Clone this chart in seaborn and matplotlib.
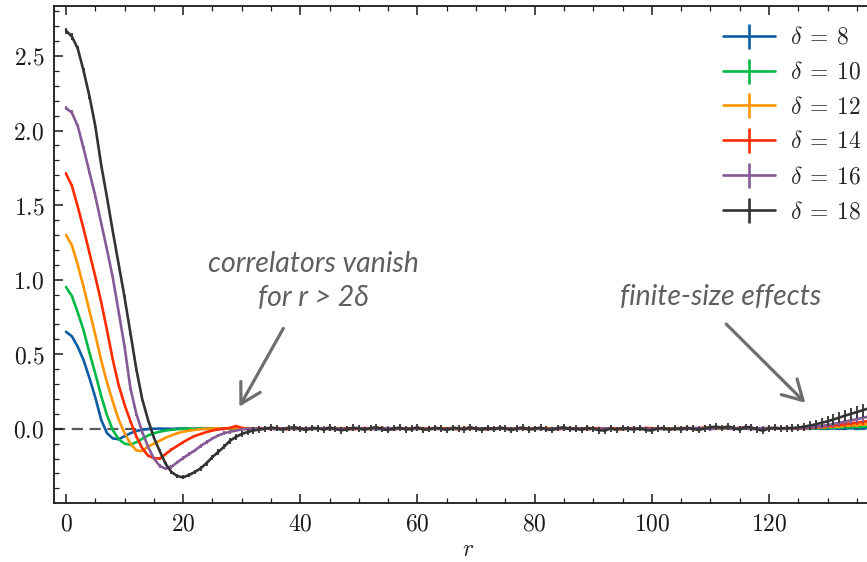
import numpy as np
import pandas as pd
import matplotlib
matplotlib.use("Agg")
import matplotlib.pyplot as plt
import seaborn as sns
from matplotlib.lines import Line2D
from matplotlib.ticker import MultipleLocator, FuncFormatter

# ---------------- data ----------------
deltas = [8, 10, 12, 14, 16, 18]
colors = ["#0C5DA5", "#00B945", "#FF9500", "#FF2C00", "#845B97", "#333333"]

# delta = 8
c8_head = [0.65, 0.62, 0.55, 0.46, 0.34, 0.21, 0.06, -0.03, -0.065, -0.07,
           -0.05, -0.03, -0.015, -0.007, -0.002, 0.0]
c8_tail = [0.001, 0.0, -0.001, 0.001, 0.002, 0.0, -0.001, 0.001, 0.0, 0.002,
           -0.001, 0.0, 0.001, 0.002, -0.001, 0.001, 0.0, -0.002, 0.001, 0.002,
           0.0, -0.001, 0.002, 0.001, 0.0, -0.001, 0.001, 0.002, -0.001, 0.0,
           0.002, 0.001, -0.001, 0.0, 0.001, 0.002, -0.002, 0.001, 0.0, 0.001,
           -0.001, 0.002, 0.0, 0.001, -0.001, 0.002, 0.001, 0.0, -0.001, 0.001,
           0.002, 0.0, -0.001, 0.001, 0.002, 0.0, -0.002, 0.001, 0.001, 0.0,
           0.002, -0.001, 0.0, 0.001, 0.002, -0.001, 0.001, 0.0, 0.002, -0.001,
           0.0, 0.001, 0.002, -0.001, 0.001, 0.0, -0.001, 0.002, 0.001, 0.0,
           -0.001, 0.001, 0.002, 0.0, -0.001, 0.001, 0.002, 0.0, 0.001, -0.001,
           0.002, 0.001, 0.0, 0.002, 0.001, 0.003, 0.001, 0.002, 0.0, 0.001,
           0.002, 0.001, 0.0, 0.001, 0.002, 0.001, 0.0, 0.001, 0.002, 0.001]
c8_end = [0.001, 0.001, 0.001, 0.002, 0.002, 0.002, 0.002, 0.003, 0.003, 0.003, 0.004, 0.004]

# delta = 10
c10_head = [0.95, 0.89, 0.78, 0.66, 0.51, 0.37, 0.22, 0.09, -0.01, -0.07,
            -0.10, -0.107, -0.09, -0.068, -0.045, -0.03, -0.02, -0.012, -0.007, -0.003, 0.0]
c10_tail = [0.001, -0.001, 0.002, 0.0, -0.002, 0.001, 0.003, -0.001, 0.0, 0.002,
            -0.002, 0.001, 0.002, -0.001, 0.003, 0.0, -0.002, 0.002, 0.001, -0.001,
            0.002, 0.0, -0.002, 0.003, 0.001, -0.001, 0.002, 0.0, 0.003, -0.002,
            0.001, 0.002, -0.001, 0.0, 0.003, -0.002, 0.001, 0.002, 0.0, -0.001,
            0.002, 0.003, -0.001, 0.001, 0.0, -0.002, 0.002, 0.001, 0.003, -0.001,
            0.0, 0.002, -0.002, 0.001, 0.003, 0.0, -0.001, 0.002, 0.001, -0.002,
            0.003, 0.001, 0.0, -0.001, 0.002, 0.003, -0.002, 0.001, 0.0, 0.002,
            -0.001, 0.002, 0.001, -0.002, 0.003, 0.0, 0.001, -0.001, 0.002, 0.003,
            0.0, -0.002, 0.001, 0.002, -0.001, 0.003, 0.001, 0.0, 0.002, 0.004,
            0.002, 0.003, 0.001, 0.004, 0.002, 0.0, 0.003, 0.001, 0.002, 0.001,
            0.002, 0.001, 0.003, 0.001, 0.002]
c10_end = [0.002, 0.003, 0.004, 0.005, 0.006, 0.007, 0.008, 0.009, 0.010, 0.011, 0.012, 0.014]

# delta = 12
c12_head = [1.30, 1.23, 1.10, 0.95, 0.79, 0.63, 0.46, 0.31, 0.18, 0.06,
            -0.03, -0.10, -0.145, -0.15, -0.12, -0.10, -0.08, -0.06, -0.045, -0.03,
            -0.02, -0.013, -0.007, -0.003, 0.0]
c12_tail = [0.001, 0.003, -0.002, 0.004, 0.002, -0.003, 0.005, 0.001, -0.002, 0.003,
            0.004, -0.001, 0.002, 0.005, -0.003, 0.001, 0.003, -0.002, 0.004, 0.002,
            -0.003, 0.003, 0.005, 0.0, -0.002, 0.004, 0.001, -0.003, 0.003, 0.005,
            0.002, -0.002, 0.004, 0.001, -0.003, 0.003, 0.005, 0.0, -0.002, 0.004,
            0.003, -0.001, 0.002, 0.005, -0.002, 0.004, 0.001, -0.003, 0.003, 0.002,
            0.005, -0.002, 0.001, 0.004, 0.003, -0.003, 0.002, 0.005, 0.0, 0.003,
            -0.002, 0.004, 0.002, -0.001, 0.005, 0.003, -0.003, 0.001, 0.004, 0.002,
            -0.002, 0.003, 0.005, 0.0, -0.003, 0.002, 0.004, 0.001, -0.002, 0.003,
            0.005, 0.002, -0.001, 0.004, 0.003, 0.006, 0.002, 0.005, 0.003, 0.001,
            0.004, 0.006, 0.002, 0.0, 0.003, 0.004, 0.002, 0.003, 0.001, 0.002,
            0.002]
c12_end = [0.003, 0.005, 0.007, 0.009, 0.011, 0.013, 0.016, 0.019, 0.022, 0.025, 0.028, 0.031]

# delta = 14
c14_head = [1.71, 1.63, 1.49, 1.34, 1.18, 1.02, 0.85, 0.66, 0.46, 0.29,
            0.16, 0.05, -0.05, -0.13, -0.18, -0.197, -0.20, -0.17, -0.14, -0.115,
            -0.09, -0.068, -0.048, -0.035, -0.022, -0.012, -0.004, 0.0, 0.006, 0.018,
            0.006, 0.0]
c14_tail = [-0.002, 0.004, 0.003, -0.003, 0.005, 0.001, -0.004, 0.006, 0.002, -0.002,
            0.004, -0.001, 0.003, 0.005, -0.003, 0.002, 0.004, -0.004, 0.001, 0.006,
            -0.002, 0.003, 0.005, 0.0, -0.004, 0.004, 0.002, -0.001, 0.006, -0.003,
            0.002, 0.005, -0.002, 0.003, 0.0, -0.004, 0.004, 0.006, -0.001, 0.002,
            -0.003, 0.004, 0.002, 0.005, -0.002, 0.001, 0.003, -0.004, 0.005, 0.002,
            0.0, 0.004, -0.003, 0.002, 0.006, -0.001, 0.003, -0.004, 0.002, 0.005,
            -0.002, 0.003, 0.001, -0.005, 0.004, 0.002, -0.001, 0.006, 0.003, -0.002,
            0.004, 0.001, -0.003, 0.005, 0.002, -0.002, 0.004, 0.007, 0.003, 0.006,
            0.009, 0.004, 0.001, 0.007, 0.005, 0.002, -0.001, 0.004, 0.003, 0.005,
            0.002, 0.004, 0.003, 0.002]
c14_end = [0.004, 0.007, 0.010, 0.014, 0.018, 0.022, 0.026, 0.031, 0.036, 0.041, 0.046, 0.051]

# delta = 16
c16_head = [2.15, 2.12, 2.03, 1.88, 1.72, 1.56, 1.38, 1.20, 1.01, 0.78,
            0.55, 0.27, 0.10, -0.02, -0.12, -0.20, -0.25, -0.268, -0.255, -0.225,
            -0.197, -0.17, -0.145, -0.115, -0.09, -0.065, -0.045, -0.03, -0.02, -0.012,
            -0.005, 0.0]
c16_tail = [0.002, -0.003, 0.004, 0.001, -0.004, 0.003, 0.005, -0.002, 0.0, 0.004,
            -0.003, 0.002, 0.005, -0.004, 0.001, 0.003, -0.005, 0.002, 0.004, -0.001,
            0.003, -0.004, 0.0, 0.005, -0.002, 0.003, 0.001, -0.004, 0.004, 0.002,
            -0.003, 0.004, 0.0, -0.005, 0.003, 0.002, -0.002, 0.005, -0.001, 0.003,
            0.004, -0.003, 0.001, 0.003, -0.004, 0.002, 0.005, -0.002, 0.0, 0.003,
            -0.004, 0.002, 0.004, -0.001, 0.003, -0.005, 0.002, 0.004, 0.0, -0.003,
            0.003, 0.001, -0.004, 0.004, 0.002, -0.002, 0.005, 0.0, -0.003, 0.003,
            0.002, -0.004, 0.003, 0.001, -0.002, 0.004, 0.006, 0.002, -0.003, 0.005,
            0.007, 0.003, -0.002, 0.006, 0.004, -0.003, 0.002, 0.005, 0.001, 0.003,
            0.002, 0.004, 0.001, 0.003]
c16_end = [0.004, 0.008, 0.013, 0.019, 0.025, 0.032, 0.040, 0.048, 0.056, 0.064, 0.073, 0.082]

# delta = 18
c18_head = [2.67, 2.63, 2.55, 2.40, 2.23, 2.03, 1.77, 1.55, 1.32, 1.10,
            0.88, 0.64, 0.40, 0.20, 0.06, -0.06, -0.15, -0.235, -0.29, -0.318,
            -0.326, -0.31, -0.29, -0.265, -0.23, -0.19, -0.155, -0.12, -0.08, -0.055,
            -0.035, -0.022, -0.012, -0.005, 0.0]
c18_tail = [0.008, 0.003, -0.007, 0.005, 0.010, 0.0, -0.009, 0.006, 0.003, -0.006,
            0.009, -0.002, -0.011, -0.004, 0.007, 0.002, -0.007, 0.005, 0.010, -0.004,
            -0.009, 0.003, 0.007, -0.005, 0.0, 0.009, -0.007, -0.003, 0.005, 0.002,
            -0.009, 0.007, 0.003, -0.005, 0.010, 0.0, -0.007, 0.005, -0.003, 0.007,
            0.002, -0.010, 0.003, 0.008, -0.005, 0.0, 0.007, -0.003, -0.009, 0.005,
            0.010, -0.003, 0.002, -0.007, 0.005, 0.0, -0.010, -0.013, 0.003, -0.007,
            0.005, 0.0, -0.005, 0.003, -0.009, -0.012, 0.002, 0.005, -0.007, 0.003,
            -0.005, 0.007, 0.0, -0.009, 0.003, 0.010, 0.014, 0.006, 0.015, 0.005,
            -0.006, 0.012, 0.009, -0.005, -0.013, 0.003, 0.006, 0.002, 0.004]
c18_end = [0.005, 0.009, 0.014, 0.022, 0.030, 0.040, 0.050, 0.062, 0.075, 0.088,
           0.100, 0.112, 0.124, 0.137]

# error bars
e8 = [0.003, 0.003, 0.003, 0.003, 0.003, 0.003, 0.003, 0.003, 0.003, 0.003,
      0.003, 0.003, 0.003, 0.003, 0.003, 0.003, 0.003, 0.003, 0.003, 0.003,
      0.003, 0.003, 0.003, 0.003, 0.003, 0.003, 0.003, 0.003, 0.003, 0.003,
      0.003, 0.003, 0.003, 0.003, 0.003, 0.003, 0.003, 0.003, 0.003, 0.003,
      0.003, 0.003, 0.003, 0.003, 0.003, 0.003, 0.003, 0.003, 0.003, 0.003,
      0.003, 0.003, 0.003, 0.003, 0.003, 0.003, 0.003, 0.003, 0.003, 0.003,
      0.003, 0.003, 0.003, 0.003, 0.003, 0.003, 0.003, 0.003, 0.003, 0.003,
      0.003, 0.003, 0.003, 0.003, 0.003, 0.003, 0.003, 0.003, 0.003, 0.003,
      0.003, 0.003, 0.003, 0.003, 0.003, 0.003, 0.003, 0.003, 0.003, 0.003,
      0.003, 0.003, 0.003, 0.003, 0.003, 0.003, 0.003, 0.003, 0.003, 0.003,
      0.003, 0.003, 0.003, 0.003, 0.003, 0.003, 0.003, 0.003, 0.003, 0.003,
      0.003, 0.003, 0.003, 0.003, 0.003, 0.003, 0.003, 0.003, 0.003, 0.003,
      0.003, 0.003, 0.003, 0.003, 0.003, 0.003, 0.003, 0.003, 0.004, 0.004,
      0.004, 0.004, 0.004, 0.005, 0.005, 0.005, 0.005, 0.005]
e10 = [0.004, 0.004, 0.004, 0.004, 0.004, 0.004, 0.004, 0.004, 0.004, 0.004,
       0.004, 0.004, 0.004, 0.004, 0.004, 0.004, 0.004, 0.004, 0.004, 0.004,
       0.004, 0.004, 0.004, 0.004, 0.004, 0.004, 0.004, 0.004, 0.004, 0.004,
       0.004, 0.004, 0.004, 0.004, 0.004, 0.004, 0.004, 0.004, 0.004, 0.004,
       0.004, 0.004, 0.004, 0.004, 0.004, 0.004, 0.004, 0.004, 0.004, 0.004,
       0.004, 0.004, 0.004, 0.004, 0.004, 0.004, 0.004, 0.004, 0.004, 0.004,
       0.004, 0.004, 0.004, 0.004, 0.004, 0.004, 0.004, 0.004, 0.004, 0.004,
       0.004, 0.004, 0.004, 0.004, 0.004, 0.004, 0.004, 0.004, 0.004, 0.004,
       0.004, 0.004, 0.004, 0.004, 0.004, 0.004, 0.004, 0.004, 0.004, 0.004,
       0.004, 0.004, 0.004, 0.004, 0.004, 0.004, 0.004, 0.004, 0.004, 0.004,
       0.004, 0.004, 0.004, 0.004, 0.004, 0.004, 0.004, 0.004, 0.004, 0.004,
       0.004, 0.004, 0.004, 0.004, 0.004, 0.004, 0.004, 0.004, 0.004, 0.004,
       0.004, 0.004, 0.004, 0.004, 0.004, 0.004, 0.005, 0.005, 0.005, 0.006,
       0.006, 0.006, 0.007, 0.007, 0.007, 0.008, 0.008, 0.008]
e12 = [0.006, 0.006, 0.006, 0.006, 0.006, 0.006, 0.006, 0.006, 0.006, 0.006,
       0.006, 0.006, 0.006, 0.006, 0.006, 0.006, 0.006, 0.006, 0.006, 0.006,
       0.006, 0.006, 0.006, 0.006, 0.006, 0.006, 0.006, 0.006, 0.006, 0.006,
       0.006, 0.006, 0.006, 0.006, 0.006, 0.006, 0.006, 0.006, 0.006, 0.006,
       0.006, 0.006, 0.006, 0.006, 0.006, 0.006, 0.006, 0.006, 0.006, 0.006,
       0.006, 0.006, 0.006, 0.006, 0.006, 0.006, 0.006, 0.006, 0.006, 0.006,
       0.006, 0.006, 0.006, 0.006, 0.006, 0.006, 0.006, 0.006, 0.006, 0.006,
       0.006, 0.006, 0.006, 0.006, 0.006, 0.006, 0.006, 0.006, 0.006, 0.006,
       0.006, 0.006, 0.006, 0.006, 0.006, 0.006, 0.006, 0.006, 0.006, 0.006,
       0.006, 0.006, 0.006, 0.006, 0.006, 0.006, 0.006, 0.006, 0.006, 0.006,
       0.006, 0.006, 0.006, 0.006, 0.006, 0.006, 0.006, 0.006, 0.006, 0.006,
       0.006, 0.006, 0.006, 0.006, 0.006, 0.006, 0.006, 0.006, 0.006, 0.006,
       0.006, 0.006, 0.006, 0.006, 0.006, 0.006, 0.007, 0.007, 0.008, 0.008,
       0.009, 0.009, 0.010, 0.010, 0.011, 0.011, 0.012, 0.013]
e14 = [0.009, 0.009, 0.009, 0.009, 0.009, 0.009, 0.009, 0.009, 0.009, 0.009,
       0.009, 0.009, 0.009, 0.009, 0.009, 0.009, 0.009, 0.009, 0.009, 0.009,
       0.009, 0.009, 0.009, 0.009, 0.009, 0.009, 0.009, 0.009, 0.009, 0.009,
       0.009, 0.009, 0.009, 0.009, 0.009, 0.009, 0.009, 0.009, 0.009, 0.009,
       0.009, 0.009, 0.009, 0.009, 0.009, 0.009, 0.009, 0.009, 0.009, 0.009,
       0.009, 0.009, 0.009, 0.009, 0.009, 0.009, 0.009, 0.009, 0.009, 0.009,
       0.009, 0.009, 0.009, 0.009, 0.009, 0.009, 0.009, 0.009, 0.009, 0.009,
       0.009, 0.009, 0.009, 0.009, 0.009, 0.009, 0.009, 0.009, 0.009, 0.009,
       0.009, 0.009, 0.009, 0.009, 0.009, 0.009, 0.009, 0.009, 0.009, 0.009,
       0.009, 0.009, 0.009, 0.009, 0.009, 0.009, 0.009, 0.009, 0.009, 0.009,
       0.009, 0.009, 0.009, 0.009, 0.009, 0.009, 0.009, 0.009, 0.009, 0.009,
       0.009, 0.009, 0.009, 0.009, 0.009, 0.009, 0.009, 0.009, 0.009, 0.009,
       0.009, 0.009, 0.009, 0.009, 0.009, 0.009, 0.010, 0.011, 0.012, 0.013,
       0.014, 0.015, 0.016, 0.017, 0.018, 0.019, 0.020, 0.021]
e16 = [0.014, 0.015, 0.013, 0.013, 0.012, 0.012, 0.012, 0.012, 0.012, 0.012,
       0.012, 0.012, 0.012, 0.012, 0.012, 0.012, 0.012, 0.012, 0.012, 0.012,
       0.012, 0.012, 0.012, 0.012, 0.012, 0.012, 0.012, 0.012, 0.012, 0.012,
       0.012, 0.012, 0.012, 0.012, 0.012, 0.012, 0.012, 0.012, 0.012, 0.012,
       0.012, 0.012, 0.012, 0.012, 0.012, 0.012, 0.012, 0.012, 0.012, 0.012,
       0.012, 0.012, 0.012, 0.012, 0.012, 0.012, 0.012, 0.012, 0.012, 0.012,
       0.012, 0.012, 0.012, 0.012, 0.012, 0.012, 0.012, 0.012, 0.012, 0.012,
       0.012, 0.012, 0.012, 0.012, 0.012, 0.012, 0.012, 0.012, 0.012, 0.012,
       0.012, 0.012, 0.012, 0.012, 0.012, 0.012, 0.012, 0.012, 0.012, 0.012,
       0.012, 0.012, 0.012, 0.012, 0.012, 0.012, 0.012, 0.012, 0.012, 0.012,
       0.012, 0.012, 0.012, 0.012, 0.012, 0.012, 0.012, 0.012, 0.012, 0.012,
       0.012, 0.012, 0.012, 0.012, 0.012, 0.012, 0.012, 0.012, 0.012, 0.012,
       0.012, 0.012, 0.012, 0.012, 0.012, 0.013, 0.014, 0.015, 0.016, 0.018,
       0.019, 0.021, 0.022, 0.024, 0.025, 0.027, 0.028, 0.030]
e18 = [0.020, 0.022, 0.018, 0.017, 0.016, 0.016, 0.015, 0.015, 0.014, 0.014,
       0.014, 0.013, 0.013, 0.013, 0.013, 0.012, 0.012, 0.013, 0.013, 0.014,
       0.014, 0.015, 0.016, 0.016, 0.017, 0.017, 0.018, 0.018, 0.019, 0.019,
       0.020, 0.020, 0.021, 0.021, 0.021, 0.022, 0.021, 0.022, 0.021, 0.022,
       0.021, 0.022, 0.021, 0.022, 0.021, 0.022, 0.021, 0.022, 0.021, 0.022,
       0.021, 0.022, 0.021, 0.022, 0.021, 0.022, 0.021, 0.022, 0.021, 0.022,
       0.021, 0.022, 0.021, 0.022, 0.021, 0.022, 0.021, 0.022, 0.021, 0.022,
       0.021, 0.022, 0.021, 0.022, 0.021, 0.022, 0.021, 0.022, 0.021, 0.022,
       0.021, 0.022, 0.021, 0.022, 0.021, 0.022, 0.021, 0.022, 0.021, 0.022,
       0.021, 0.022, 0.021, 0.022, 0.021, 0.022, 0.021, 0.022, 0.021, 0.022,
       0.021, 0.022, 0.021, 0.022, 0.021, 0.022, 0.021, 0.022, 0.021, 0.022,
       0.021, 0.022, 0.021, 0.022, 0.021, 0.022, 0.021, 0.022, 0.021, 0.022,
       0.022, 0.023, 0.023, 0.024, 0.025, 0.026, 0.027, 0.028, 0.030, 0.031,
       0.033, 0.035, 0.037, 0.039, 0.041, 0.043, 0.045, 0.047]

curves = {
    8: (c8_head + c8_tail + c8_end, e8),
    10: (c10_head + c10_tail + c10_end, e10),
    12: (c12_head + c12_tail + c12_end, e12),
    14: (c14_head + c14_tail + c14_end, e14),
    16: (c16_head + c16_tail + c16_end, e16),
    18: (c18_head + c18_tail + c18_end, e18),
}

rows = []
for d in deltas:
    vals, errs = curves[d]
    for i, (v, e) in enumerate(zip(vals, errs)):
        rows.append({"r": i, "C": v, "err": e, "delta": d})
df = pd.DataFrame(rows)

# ---------------- style ----------------
sns.set_theme(style="ticks")
plt.rcParams.update({
    "font.family": ["DejaVu Serif"],
    "mathtext.fontset": "cm",
    "axes.linewidth": 1.3,
    "axes.edgecolor": "#1a1a1a",
    "xtick.color": "#1a1a1a",
    "ytick.color": "#1a1a1a",
})

W, H = 867, 562
fig = plt.figure(figsize=(W / 100, H / 100), dpi=100)
fig.patch.set_facecolor("white")
# the reference is cropped on the right: the right spine lies beyond the canvas
left_px, right_px, top_px, bot_px = 54.3, 882.0, 6.0, 502.7
ax = fig.add_axes([left_px / W, 1 - bot_px / H, (right_px - left_px) / W, (bot_px - top_px) / H])
ax.set_facecolor("white")

ax.axhline(0, color="#5a5a5a", lw=1.6, ls=(0, (5, 3)), zorder=0)

palette = dict(zip(deltas, colors))
sns.lineplot(data=df, x="r", y="C", hue="delta", hue_order=deltas, palette=palette,
             linewidth=1.9, legend=False, errorbar=None, sort=False, ax=ax, zorder=2)

for d, c in zip(deltas, colors):
    sub = df[df["delta"] == d]
    ax.errorbar(sub["r"], sub["C"], yerr=sub["err"], fmt="none", ecolor=c,
                elinewidth=1.3, capsize=0, zorder=3)

px_per_unit = 5.858
ax.set_xlim(-2.0, -2.0 + (right_px - left_px) / px_per_unit)
ax.set_ylim(-0.496, 2.835)

ax.xaxis.set_major_locator(MultipleLocator(20))
ax.xaxis.set_minor_locator(MultipleLocator(5))
ax.yaxis.set_major_locator(MultipleLocator(0.5))
ax.yaxis.set_minor_locator(MultipleLocator(0.1))
ax.xaxis.set_major_formatter(FuncFormatter(lambda v, p: f"${v:.0f}$"))
ax.yaxis.set_major_formatter(FuncFormatter(lambda v, p: f"${v:.1f}$"))
ax.tick_params(which="both", direction="in", top=True, right=True, labelsize=17)
ax.tick_params(which="major", length=6.5, width=1.1, pad=7)
ax.tick_params(which="minor", length=3.5, width=0.9)
for s in ax.spines.values():
    s.set_visible(True)

ax.set_xlabel("$r$", fontsize=17, labelpad=2)
ax.set_ylabel("")

handles = [Line2D([], [], color=c, lw=1.9, marker="|", markersize=18, mew=1.9) for c in colors]
labels = [rf"$\delta \:=\: {d}$" for d in deltas]
ax.legend(handles, labels, loc="upper left", bbox_to_anchor=(723 / W, 1 - 26 / H),
          bbox_transform=fig.transFigure, frameon=False, fontsize=17, handlelength=2.2,
          handletextpad=0.65, labelspacing=0.5, borderpad=0, borderaxespad=0, numpoints=1)

note_kw = dict(ha="center", va="center", fontsize=20.5, style="italic",
               family=["Lato", "DejaVu Sans"], color="#5f5f5f")
ax.text(42.2, 0.99, "correlators vanish\nfor r > 2δ", linespacing=1.35, **note_kw)
ax.text(111.8, 0.885, "finite-size effects", **note_kw)

arrow_kw = dict(arrowstyle="->,head_length=0.7,head_width=0.4", color="#6e6e6e", lw=2.3,
                mutation_scale=20, shrinkA=0, shrinkB=0)
ax.annotate("", xy=(29.6, 0.148), xytext=(37.1, 0.673), arrowprops=arrow_kw)
ax.annotate("", xy=(126.2, 0.174), xytext=(112.7, 0.702), arrowprops=arrow_kw)

fig.savefig("out.png", dpi=100, facecolor="white")
